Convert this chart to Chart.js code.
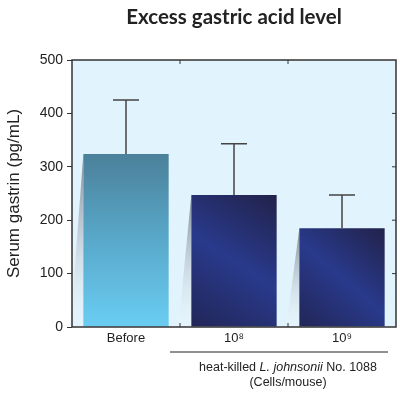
<!DOCTYPE html>
<html>
<head>
<meta charset="utf-8">
<script src="https://cdn.jsdelivr.net/npm/chart.js@4"></script>
<style>
  html, body { margin: 0; padding: 0; background: #fff; }
  #wrap { width: 400px; height: 400px; }
</style>
</head>
<body>
<div id="wrap"><canvas id="gastrinChart"></canvas></div>
<script>
const groups = ['Before', '10\u2078', '10\u2079'];
const gastrinMean = [324, 247, 185];
const gastrinSD = [101, 96, 62];
const yTicks = [0, 100, 200, 300, 400, 500];

const narrow = "'Liberation Sans', Arial, sans-serif";

// bar fills: light blue for Before, dark navy for the dosed groups
function barFill(ctx) {
  const chart = ctx.chart;
  const area = chart.chartArea;
  if (!area || !chart.scales.y) return '#26306e';
  const g = chart.ctx;
  const top = chart.scales.y.getPixelForValue(gastrinMean[ctx.dataIndex]);
  const cx = chart.scales.x.getPixelForValue(ctx.dataIndex);
  if (ctx.dataIndex === 0) {
    const grd = g.createLinearGradient(0, top, 0, area.bottom);
    grd.addColorStop(0, '#4b8099');
    grd.addColorStop(0.45, '#57a5c6');
    grd.addColorStop(1, '#6acdf3');
    return grd;
  }
  const grd = g.createLinearGradient(cx + 42, top, cx - 42, area.bottom);
  grd.addColorStop(0, '#22224a');
  grd.addColorStop(0.5, '#293a8c');
  grd.addColorStop(1, '#222658');
  return grd;
}

const plotDecor = {
  id: 'plotDecor',
  beforeDraw(chart) {
    const { ctx, chartArea: a } = chart;
    ctx.save();
    ctx.fillStyle = '#e1f3fd';
    ctx.fillRect(a.left, a.top, a.right - a.left, a.bottom - a.top);
    ctx.restore();
  },
  beforeDatasetsDraw(chart) {
    // soft shadow wedge to the left of each bar
    const { ctx, chartArea: a } = chart;
    const meta = chart.getDatasetMeta(0);
    ctx.save();
    meta.data.forEach(bar => {
      const left = bar.x - bar.width / 2;
      const grd = ctx.createLinearGradient(0, bar.y, 0, a.bottom);
      grd.addColorStop(0, 'rgba(110,120,130,0.85)');
      grd.addColorStop(0.6, 'rgba(200,210,220,0.6)');
      grd.addColorStop(1, 'rgba(240,248,252,0.3)');
      ctx.fillStyle = grd;
      ctx.beginPath();
      ctx.moveTo(left, bar.y);
      ctx.lineTo(left, a.bottom);
      ctx.lineTo(left - 13, a.bottom);
      ctx.closePath();
      ctx.fill();
    });
    ctx.restore();
  },
  afterDatasetsDraw(chart) {
    const { ctx, chartArea: a, scales } = chart;
    const y = scales.y, x = scales.x;
    const meta = chart.getDatasetMeta(0);
    ctx.save();
    // error bars
    ctx.strokeStyle = '#444';
    ctx.lineWidth = 1.5;
    meta.data.forEach((bar, i) => {
      const top = y.getPixelForValue(gastrinMean[i] + gastrinSD[i]);
      ctx.beginPath();
      ctx.moveTo(bar.x, bar.y);
      ctx.lineTo(bar.x, top);
      ctx.moveTo(bar.x - 13, top);
      ctx.lineTo(bar.x + 13, top);
      ctx.stroke();
    });
    // frame
    ctx.strokeStyle = '#333';
    ctx.lineWidth = 1.5;
    ctx.strokeRect(a.left, a.top, a.right - a.left, a.bottom - a.top);
    // inward ticks on right side
    ctx.lineWidth = 1;
    yTicks.slice(1, -1).forEach(v => {
      const py = y.getPixelForValue(v);
      ctx.beginPath();
      ctx.moveTo(a.right, py);
      ctx.lineTo(a.right - 4, py);
      ctx.stroke();
    });
    // category boundary ticks, top and bottom
    for (let i = 1; i < groups.length; i++) {
      const px = (x.getPixelForValue(i - 1) + x.getPixelForValue(i)) / 2;
      ctx.beginPath();
      ctx.moveTo(px, a.bottom);
      ctx.lineTo(px, a.bottom - 4);
      ctx.moveTo(px, a.top);
      ctx.lineTo(px, a.top + 4);
      ctx.stroke();
    }
    ctx.restore();
  },
  afterDraw(chart) {
    const { ctx, chartArea: a, scales } = chart;
    const x = scales.x;
    ctx.save();
    // title
    ctx.fillStyle = '#222';
    ctx.font = "bold 20.5px Lato, 'Open Sans', sans-serif";
    ctx.textAlign = 'center';
    ctx.textBaseline = 'middle';
    ctx.fillText('Excess gastric acid level', (a.left + a.right) / 2, 17);

    // group bracket under the dosed bars
    const b1 = x.getPixelForValue(1), b2 = x.getPixelForValue(2);
    ctx.strokeStyle = '#222';
    ctx.lineWidth = 1;
    ctx.beginPath();
    ctx.moveTo(170, 352);
    ctx.lineTo(388, 352);
    ctx.stroke();

    const cx = (b1 + b2) / 2;
    const parts = [
      ['heat-killed ', 'normal'],
      ['L. johnsonii', 'italic'],
      [' No. 1088', 'normal']
    ];
    let total = 0;
    parts.forEach(p => {
      ctx.font = p[1] + ' 12.5px ' + narrow;
      total += ctx.measureText(p[0]).width;
    });
    let px = cx - total / 2;
    ctx.textAlign = 'left';
    parts.forEach(p => {
      ctx.font = p[1] + ' 12.5px ' + narrow;
      ctx.fillText(p[0], px, 368);
      px += ctx.measureText(p[0]).width;
    });
    ctx.font = '12.5px ' + narrow;
    ctx.textAlign = 'center';
    ctx.fillText('(Cells/mouse)', cx, 383);
    ctx.restore();
  }
};

new Chart(document.getElementById('gastrinChart'), {
  type: 'bar',
  data: {
    labels: groups,
    datasets: [{
      label: 'Serum gastrin',
      data: gastrinMean,
      backgroundColor: barFill,
      borderWidth: 0,
      barPercentage: 0.79,
      categoryPercentage: 1
    }]
  },
  options: {
    responsive: true,
    maintainAspectRatio: false,
    animation: false,
    layout: { padding: { top: 60, right: 4, left: 4, bottom: 0 } },
    plugins: {
      legend: { display: false },
      tooltip: { enabled: false }
    },
    scales: {
      x: {
        grid: { display: false },
        border: { display: false },
        ticks: {
          color: '#222',
          font: { family: narrow, size: 13 },
          padding: -4
        },
        afterFit(scale) { scale.height = 73; }
      },
      y: {
        min: 0,
        max: 500,
        afterBuildTicks(scale) { scale.ticks = yTicks.map(v => ({ value: v })); },
        grid: {
          drawOnChartArea: false,
          tickLength: 5,
          color: '#333'
        },
        border: { display: false },
        ticks: {
          color: '#222',
          font: { family: narrow, size: 14 },
          padding: 4
        },
        title: {
          display: true,
          text: 'Serum gastrin (pg/mL)',
          color: '#222',
          font: { family: narrow, size: 17 },
          padding: { top: 0, bottom: 3 }
        },
        afterFit(scale) { scale.width = 68; }
      }
    }
  },
  plugins: [plotDecor]
});
</script>
</body>
</html>
